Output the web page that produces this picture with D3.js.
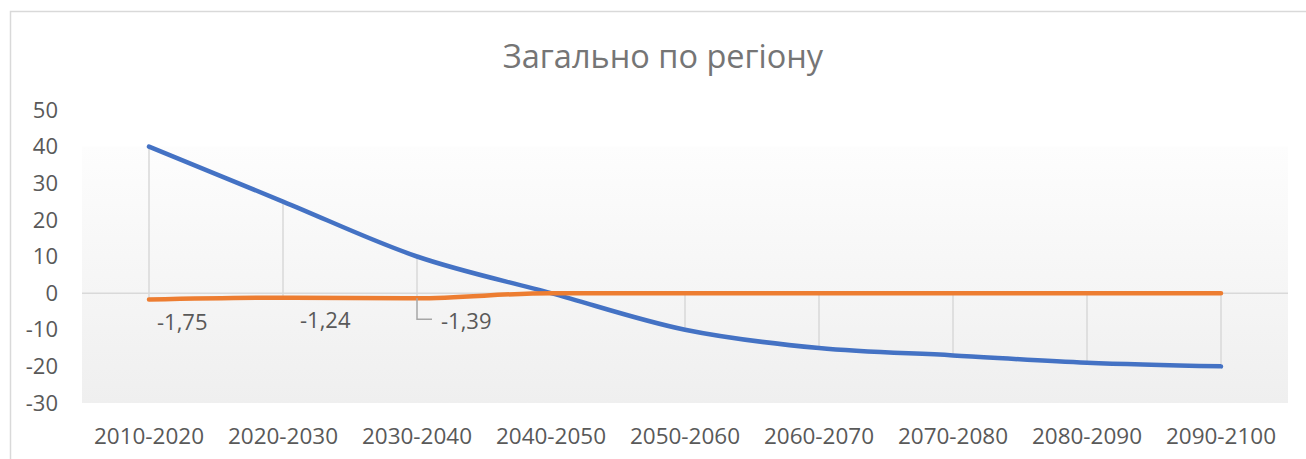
<!DOCTYPE html>
<html>
<head>
<meta charset="utf-8">
<script src="https://cdn.jsdelivr.net/npm/d3@7"></script>
<style>
  body { margin: 0; background: #fff; }
  svg { display: block; font-family: "Open Sans", sans-serif; }
</style>
</head>
<body>
<div id="chart"></div>
<script>
// data
const periods = ["2010-2020", "2020-2030", "2030-2040", "2040-2050", "2050-2060",
                 "2060-2070", "2070-2080", "2080-2090", "2090-2100"];
const seriesBlue = [40, 25, 10, 0, -10, -15, -17, -19, -20];
const seriesOrange = [-1.75, -1.24, -1.39, 0, 0, 0, 0, 0, 0];
const yTicks = [50, 40, 30, 20, 10, 0, -10, -20, -30];
const chartTitle = "Загально по регіону";

const width = 1306, height = 459;
const plot = { left: 82, right: 1288, top: 110, bottom: 403 };

const svg = d3.select("#chart").append("svg")
    .attr("width", width)
    .attr("height", height);

// chart border (cut by the window on right/bottom)
svg.append("rect")
    .attr("x", 10.5).attr("y", 11.5)
    .attr("width", 1400).attr("height", 600)
    .attr("fill", "#fff")
    .attr("stroke", "#d9d9d9")
    .attr("stroke-width", 1.5);

const x = d3.scaleBand()
    .domain(periods)
    .range([plot.left, plot.right]);

const y = d3.scaleLinear()
    .domain([-30, 50])
    .range([plot.bottom, plot.top]);

const cx = d => x(d) + x.bandwidth() / 2;

// plot area gradient
const defs = svg.append("defs");
const grad = defs.append("linearGradient")
    .attr("id", "plotGrad")
    .attr("x1", 0).attr("y1", 0).attr("x2", 0).attr("y2", 1);
grad.append("stop").attr("offset", "0%").attr("stop-color", "#fdfdfd");
grad.append("stop").attr("offset", "100%").attr("stop-color", "#efefef");

svg.append("rect")
    .attr("x", plot.left)
    .attr("y", y(40))
    .attr("width", plot.right - plot.left)
    .attr("height", plot.bottom - y(40))
    .attr("fill", "url(#plotGrad)");

// title
svg.append("text")
    .attr("x", 663)
    .attr("y", 57)
    .attr("dy", "0.35em")
    .attr("text-anchor", "middle")
    .attr("font-size", 32.5)
    .attr("fill", "#757575")
    .text(chartTitle);

// y axis labels
svg.append("g").selectAll("text")
    .data(yTicks)
    .enter().append("text")
    .attr("x", 58)
    .attr("y", d => y(d))
    .attr("dy", "0.35em")
    .attr("text-anchor", "end")
    .attr("font-size", 22)
    .attr("fill", "#595959")
    .text(d => d);

// x axis labels
svg.append("g").selectAll("text")
    .data(periods)
    .enter().append("text")
    .attr("x", d => cx(d))
    .attr("y", 436)
    .attr("dy", "0.35em")
    .attr("text-anchor", "middle")
    .attr("font-size", 22.5)
    .attr("fill", "#595959")
    .text(d => d);

// zero line
svg.append("line")
    .attr("x1", plot.left).attr("x2", plot.right)
    .attr("y1", y(0)).attr("y2", y(0))
    .attr("stroke", "#d9d9d9")
    .attr("stroke-width", 1.5);

// high-low lines
svg.append("g").selectAll("line")
    .data(periods)
    .enter().append("line")
    .attr("x1", d => cx(d)).attr("x2", d => cx(d))
    .attr("y1", (d, i) => y(seriesBlue[i]))
    .attr("y2", (d, i) => y(seriesOrange[i]))
    .attr("stroke", "#d9d9d9")
    .attr("stroke-width", 1.5);

const line = d3.line()
    .x((d, i) => cx(periods[i]))
    .y(d => y(d))
    .curve(d3.curveMonotoneX);

svg.append("path")
    .datum(seriesBlue)
    .attr("d", line)
    .attr("fill", "none")
    .attr("stroke", "#4472c4")
    .attr("stroke-width", 4.5)
    .attr("stroke-linecap", "round")
    .attr("stroke-linejoin", "round");

svg.append("path")
    .datum(seriesOrange)
    .attr("d", line)
    .attr("fill", "none")
    .attr("stroke", "#ed7d31")
    .attr("stroke-width", 4.5)
    .attr("stroke-linecap", "round")
    .attr("stroke-linejoin", "round");

// data labels for the non-zero orange points
const fmt = v => String(v.toFixed(2)).replace(".", ",");
const labelDx = [8, 17, 24];
const labelled = seriesOrange.map((v, i) => ({ v, i })).filter(d => d.v !== 0);

const lab = svg.append("g");
labelled.forEach((d, k) => {
    const px = cx(periods[d.i]), py = y(d.v);
    const lx = px + labelDx[k], ly = py + 23;
    if (labelDx[k] > 20) {
        // leader line
        lab.append("path")
            .attr("d", `M${px},${py}V${ly - 2}H${px + 15}`)
            .attr("fill", "none")
            .attr("stroke", "#a6a6a6")
            .attr("stroke-width", 1.5);
    }
    lab.append("text")
        .attr("x", lx)
        .attr("y", ly)
        .attr("dy", "0.35em")
        .attr("font-size", 22)
        .attr("fill", "#595959")
        .text(fmt(d.v));
});
</script>
</body>
</html>
